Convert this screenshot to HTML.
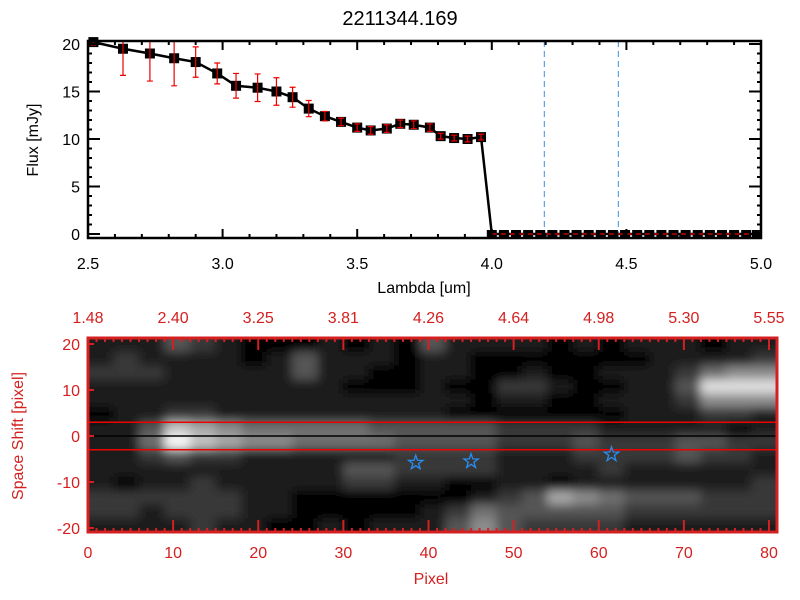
<!DOCTYPE html>
<html><head><meta charset="utf-8">
<style>
html,body{margin:0;padding:0;background:#fff;}
svg{display:block;font-family:"Liberation Sans",sans-serif;}
</style></head>
<body>
<svg id="chart" width="800" height="600" viewBox="0 0 800 600">
<defs>
<filter id="blur" x="-5%" y="-5%" width="110%" height="110%"><feGaussianBlur stdDeviation="5"/></filter>
<clipPath id="imgclip"><rect x="88" y="338" width="689" height="194"/></clipPath>
</defs>
<text x="400" y="25" font-size="20" text-anchor="middle">2211344.169</text>
<g id="top"></g>
<g id="bot"></g>
</svg>
<script>
// ---- top panel data ----
const lambdas=[2.52,2.63,2.73,2.82,2.90,2.98,3.05,3.13,3.20,3.26,3.32,3.38,3.44,3.50,3.55,3.61,3.66,3.71,3.77,3.81,3.86,3.91,3.96];
const fluxes=[20.2,19.5,19.0,18.5,18.1,16.9,15.6,15.4,15.0,14.4,13.2,12.4,11.8,11.2,10.9,11.1,11.6,11.5,11.2,10.3,10.1,10.0,10.2];
const fluxErr=[0.3,2.8,2.9,2.9,1.6,1.1,1.3,1.45,1.45,1.05,0.85,0.5,0.4,0.4,0.4,0.4,0.4,0.4,0.4,0.3,0.3,0.3,0.3];
const zeroLambdas=[4.00,4.045,4.09,4.135,4.18,4.225,4.27,4.315,4.36,4.405,4.45,4.495,4.54,4.585,4.63,4.675,4.72,4.765,4.81,4.855,4.90,4.945,4.985];
const zeroFlux=[0,0,0,0,0,0,0,0,0,0,0,0,0,0,0,0,0,0,0,0,0,0,0];
const xTicks=["2.5","3.0","3.5","4.0","4.5","5.0"];
const yTicks=["0","5","10","15","20"];
const vLines=[4.195,4.47];
// ---- bottom panel data ----
const topLabels=["1.48","2.40","3.25","3.81","4.26","4.64","4.98","5.30","5.55"];
const pixTicks=["0","10","20","30","40","50","60","70","80"];
const shiftTicks=["-20","-10","0","10","20"];
const stars=[[38.5,-5.8],[45,-5.5],[61.5,-4]];
const grid=[
"111321000101031111010111011",
"121111013111011000000011112",
"222111113110011001001112455",
"111111111100010022100113888",
"111111111111111011001112555",
"011221111111110000000111221",
"113765444443333322221111101",
"114976554444333322232223322",
"112322111111222211122223221",
"111111111133222211112111111",
"101121111122110011011111112",
"222222110000000123654333222",
"221222110000012433333222222",
"111121100101113532222111111"];

const NS="http://www.w3.org/2000/svg";
function mk(p,t,a){const e=document.createElementNS(NS,t);for(const k in a)e.setAttribute(k,a[k]);p.appendChild(e);return e;}

// top panel
const T=document.getElementById('top');
const L=88,R=761,TOP=41,BOT=238;
const sx=v=>L+(v-2.5)*(R-L)/2.5;
const sy=v=>234-v*9.5;
for(const v of vLines){
 const l=mk(T,'line',{x1:sx(v),x2:sx(v),y1:TOP,y2:BOT,stroke:'#3a8ee6','stroke-width':1,'stroke-dasharray':'6,4'});
 
 
}
let pts=lambdas.map((x,i)=>sx(x)+','+sy(fluxes[i]));
pts=pts.concat(zeroLambdas.map((x,i)=>sx(x)+','+sy(zeroFlux[i])));
const pl=mk(T,'polyline',{points:pts.join(' '),fill:'none',stroke:'#000','stroke-width':2.5});


lambdas.forEach((x,i)=>{
 const cx=sx(x),cy=sy(fluxes[i]);
 const r=mk(T,'rect',{x:cx-5,y:cy-5,width:10,height:10,fill:'#000'});
 
 
 const y1=Math.max(TOP,sy(fluxes[i]+fluxErr[i])),y2=sy(fluxes[i]-fluxErr[i]);
 const g=mk(T,'path',{d:`M${cx},${y1}V${y2}M${cx-3},${y1}H${cx+3}M${cx-3},${y2}H${cx+3}`,stroke:'#e00',fill:'none','stroke-width':1.2});
 
 
});
zeroLambdas.forEach((x,i)=>{
 const r=mk(T,'rect',{x:sx(x)-5,y:sy(zeroFlux[i])-4,width:10,height:8,fill:'#000'});
 
 
});
mk(T,'line',{x1:sx(4.0),x2:R,y1:234,y2:234,stroke:'#e00','stroke-width':1.2,'stroke-dasharray':'5,4'});
const bx=mk(T,'rect',{x:L,y:TOP,width:R-L,height:BOT-TOP,fill:'none',stroke:'#000','stroke-width':2.5});


let tp='';
for(let k=0;k<=25;k++){const x=sx(2.5+k*0.1),len=k%5==0?9:4;tp+=`M${x},${BOT}v${-len}M${x},${TOP}v${len}`;}
for(let k=0;k<=20;k++){const y=sy(k),len=k%5==0?12:4;tp+=`M${L},${y}h${len}M${R},${y}h${-len}`;}
mk(T,'path',{d:tp,stroke:'#000','stroke-width':2,fill:'none'});
xTicks.forEach(t=>{const e=mk(T,'text',{x:sx(+t),y:269,'font-size':16,'text-anchor':'middle'});e.textContent=t;
 });
yTicks.forEach(t=>{const e=mk(T,'text',{x:80,y:sy(+t)+6,'font-size':16,'text-anchor':'end'});e.textContent=t;
 });
let e=mk(T,'text',{x:424,y:293,'font-size':16,'text-anchor':'middle'});e.textContent='Lambda [um]';

e=mk(T,'text',{x:0,y:0,'font-size':16,'text-anchor':'middle',transform:'translate(38,140) rotate(-90)'});e.textContent='Flux [mJy]';


// bottom panel
const B=document.getElementById('bot');
const BL=88,BR=777,BT=338,BB=532;
const px=v=>BL+v*(769-BL)/80;
const py=v=>436-v*(526-342)/40;
mk(B,'rect',{x:BL,y:BT,width:BR-BL,height:BB-BT,fill:'#000'});
const clipG=mk(B,'g',{'clip-path':'url(#imgclip)'});
const cells=mk(clipG,'g',{filter:'url(#blur)'});
const nr=grid.length,nc=grid[0].length,cw=(BR-BL)/nc,ch=(BB-BT)/nr;
grid.forEach((row,i)=>{for(let j=0;j<nc;j++){const v=+row[j];const g=Math.min(255,v*28);
 const c=mk(cells,'rect',{x:BL+j*cw-(j==0?10:0),y:BT+i*ch-(i==0?10:0),width:cw+0.5+(j==0||j==nc-1?10:0),height:ch+0.5+(i==0||i==nr-1?10:0),fill:`rgb(${g},${g},${g})`});
 
 }});
mk(B,'line',{x1:BL,x2:BR,y1:py(0),y2:py(0),stroke:'#000','stroke-width':1.5});
mk(B,'line',{x1:BL,x2:BR,y1:py(3),y2:py(3),stroke:'#e00','stroke-width':1.5});
mk(B,'line',{x1:BL,x2:BR,y1:py(-3),y2:py(-3),stroke:'#e00','stroke-width':1.5});
stars.forEach(s=>{const cx=px(s[0]),cy=py(s[1]);let d='';
 for(let k=0;k<10;k++){const a=-Math.PI/2+k*Math.PI/5,r=k%2?3:7.5;d+=(k?'L':'M')+(cx+r*Math.cos(a)).toFixed(1)+','+(cy+r*Math.sin(a)).toFixed(1);}
 const st=mk(B,'path',{d:d+'Z',fill:'none',stroke:'#2a8ef0','stroke-width':1.3});
 
 });
let bt='';
for(let k=0;k<=81;k++){const x=px(k),len=k%10==0?12:4;bt+=`M${x},${BB}v${-len}M${x},${BT}v${len}`;}
for(let k=-20;k<=20;k+=10){bt+=`M${BL},${py(k)}h6`;}
mk(B,'path',{d:bt,stroke:'#d42020','stroke-width':2,fill:'none'});
const bb=mk(B,'rect',{x:BL,y:BT,width:BR-BL,height:BB-BT,fill:'none',stroke:'#d42020','stroke-width':3});


topLabels.forEach((t,i)=>{const e=mk(B,'text',{x:px(i*10),y:323,'font-size':16,'text-anchor':'middle',fill:'#d42020'});e.textContent=t;
 });
pixTicks.forEach(t=>{const e=mk(B,'text',{x:px(+t),y:558,'font-size':16,'text-anchor':'middle',fill:'#d42020'});e.textContent=t;
 });
shiftTicks.forEach(t=>{const e=mk(B,'text',{x:80,y:py(+t)+6,'font-size':16,'text-anchor':'end',fill:'#d42020'});e.textContent=t;
 });
e=mk(B,'text',{x:431,y:584,'font-size':16,'text-anchor':'middle',fill:'#d42020'});e.textContent='Pixel';

e=mk(B,'text',{x:0,y:0,'font-size':16,'text-anchor':'middle',fill:'#d42020',transform:'translate(23,436) rotate(-90)'});e.textContent='Space Shift [pixel]';

</script>
</body></html>
